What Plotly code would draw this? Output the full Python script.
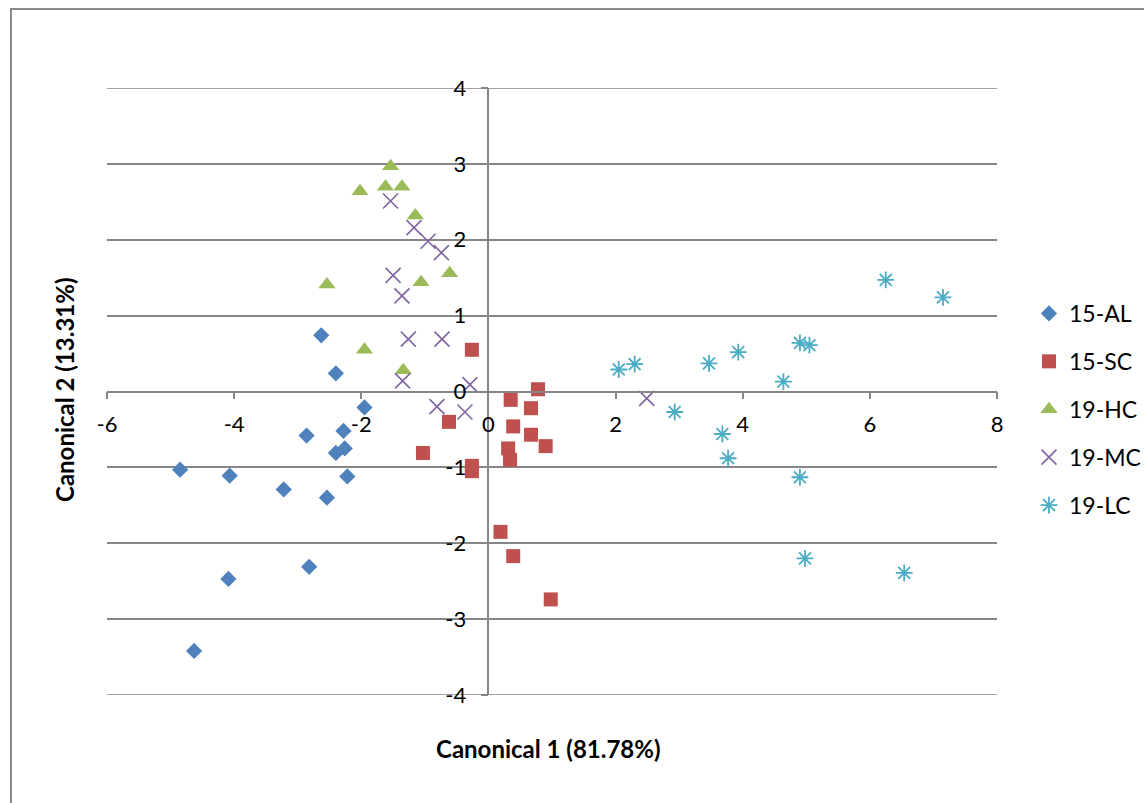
import plotly.graph_objects as go

# ---- data ----
al_x = [-2.63, -2.40, -1.95, -2.86, -2.28, -2.26, -2.40, -4.85, -4.07, -2.22, -3.22, -2.54, -2.82, -4.09, -4.63]
al_y = [0.74, 0.24, -0.21, -0.58, -0.52, -0.75, -0.81, -1.03, -1.11, -1.12, -1.29, -1.40, -2.31, -2.47, -3.42]

sc_x = [-0.26, 0.35, 0.78, 0.67, -0.62, 0.39, 0.67, 0.90, -1.03, 0.31, 0.34, -0.26, -0.26, 0.19, 0.39, 0.98]
sc_y = [0.55, -0.11, 0.03, -0.22, -0.40, -0.46, -0.57, -0.72, -0.81, -0.75, -0.90, -0.98, -1.05, -1.85, -2.17, -2.74]

hc_x = [-1.54, -2.02, -1.62, -1.36, -1.15, -0.61, -1.06, -2.54, -1.95, -1.34]
hc_y = [2.97, 2.64, 2.70, 2.70, 2.32, 1.56, 1.44, 1.41, 0.55, 0.28]

mc_x = [-1.54, -1.17, -0.95, -0.74, -1.50, -1.36, -1.26, -0.73, -1.35, -0.29, -0.81, -0.37, 2.49]
mc_y = [2.51, 2.16, 1.98, 1.83, 1.53, 1.26, 0.69, 0.69, 0.14, 0.09, -0.20, -0.27, -0.09]

lc_x = [2.05, 2.30, 3.47, 3.93, 4.90, 5.05, 4.64, 6.25, 7.15, 2.93, 3.68, 3.77, 4.90, 4.98, 6.54]
lc_y = [0.29, 0.36, 0.37, 0.52, 0.64, 0.61, 0.13, 1.47, 1.24, -0.27, -0.56, -0.88, -1.13, -2.20, -2.39]

series_names = ["15-AL", "15-SC", "19-HC", "19-MC", "19-LC"]
x_title = "Canonical 1 (81.78%)"
y_title = "Canonical 2 (13.31%)"

x_tickvals = [-6, -4, -2, 0, 2, 4, 6, 8]
x_ticktext = ["-6", "-4", "-2", "0", "2", "4", "6", "8"]
y_tickvals = [-4, -3, -2, -1, 0, 1, 2, 3, 4]
y_ticktext = ["-4", "-3", "-2", "-1", "0", "1", "2", "3", "4"]

FONT = "Lato, 'Open Sans', sans-serif"
GRAY = "#868686"

# plot area in pixels
W, H = 1144, 803
L, R, T, B = 107, 997, 88, 695


def px_x(p):
    return (p - L) / (R - L)


def px_y(p):
    return (B - p) / (B - T)


fig = go.Figure()

specs = [
    (al_x, al_y, dict(symbol="diamond", size=12.5, color="#4F81BD")),
    (sc_x, sc_y, dict(symbol="square", size=14, color="#C0504D")),
    (hc_x, hc_y, dict(symbol="triangle-up", size=15, color="#9BBB59")),
    (mc_x, mc_y, dict(symbol="x-thin-open", size=15, color="#8064A2",
                      line=dict(width=1.6, color="#8064A2"))),
    (lc_x, lc_y, dict(symbol="asterisk-open", size=14, color="#4BACC6",
                      line=dict(width=1.8, color="#4BACC6"))),
]
for name, (xs, ys, mk) in zip(series_names, specs):
    fig.add_trace(go.Scatter(x=xs, y=ys, mode="markers", name=name,
                             legendgroup=name, marker=mk))

# gridlines at the range edges (plotly omits them at the plot border)
edge_grid = [
    dict(type="line", xref="paper", yref="y", x0=0, x1=1, y0=v, y1=v,
         line=dict(color=GRAY, width=1.5), layer="below")
    for v in (y_tickvals[0], y_tickvals[-1])
]

fig.update_layout(
    width=W, height=H,
    margin=dict(l=L, r=W - R, t=T, b=H - B, autoexpand=False),
    paper_bgcolor="white", plot_bgcolor="white",
    font=dict(family=FONT, size=22, color="black"),
    showlegend=True,
    legend=dict(x=px_x(1029), y=px_y(292), xanchor="left", yanchor="top",
                font=dict(size=23), tracegroupgap=15, bgcolor="rgba(0,0,0,0)"),
    xaxis=dict(range=[-6, 8], tickvals=x_tickvals, ticktext=x_ticktext,
               showgrid=False, zeroline=False, automargin=False,
               showline=True, linecolor=GRAY, linewidth=1.5,
               ticks="outside", ticklen=7, tickwidth=1.5, tickcolor=GRAY,
               anchor="free", position=0.5, tickfont=dict(size=22),
               ticklabelstandoff=6),
    yaxis=dict(range=[-4, 4], tickvals=y_tickvals, ticktext=y_ticktext,
               showgrid=True, gridcolor=GRAY, gridwidth=1.5, automargin=False,
               zeroline=False, showline=True, linecolor=GRAY, linewidth=1.5,
               ticks="outside", ticklen=7, tickwidth=1.5, tickcolor=GRAY,
               anchor="free", position=6 / 14, tickfont=dict(size=22),
               ticklabelstandoff=10),
    shapes=[dict(type="rect", xref="paper", yref="paper",
                 x0=px_x(11), x1=px_x(1160), y0=px_y(9), y1=px_y(820),
                 line=dict(color="#8a8a8a", width=2), fillcolor="rgba(0,0,0,0)",
                 layer="below")] + edge_grid,
    annotations=[
        dict(text=x_title, xref="paper", yref="paper", x=px_x(548), y=px_y(748),
             xanchor="center", yanchor="middle", showarrow=False,
             font=dict(family=FONT, size=24, color="black", weight="bold")),
        dict(text=y_title, xref="paper", yref="paper", x=px_x(64), y=px_y(390),
             xanchor="center", yanchor="middle", showarrow=False, textangle=-90,
             font=dict(family=FONT, size=24, color="black", weight="bold")),
    ],
)

fig.write_html("out.html")
